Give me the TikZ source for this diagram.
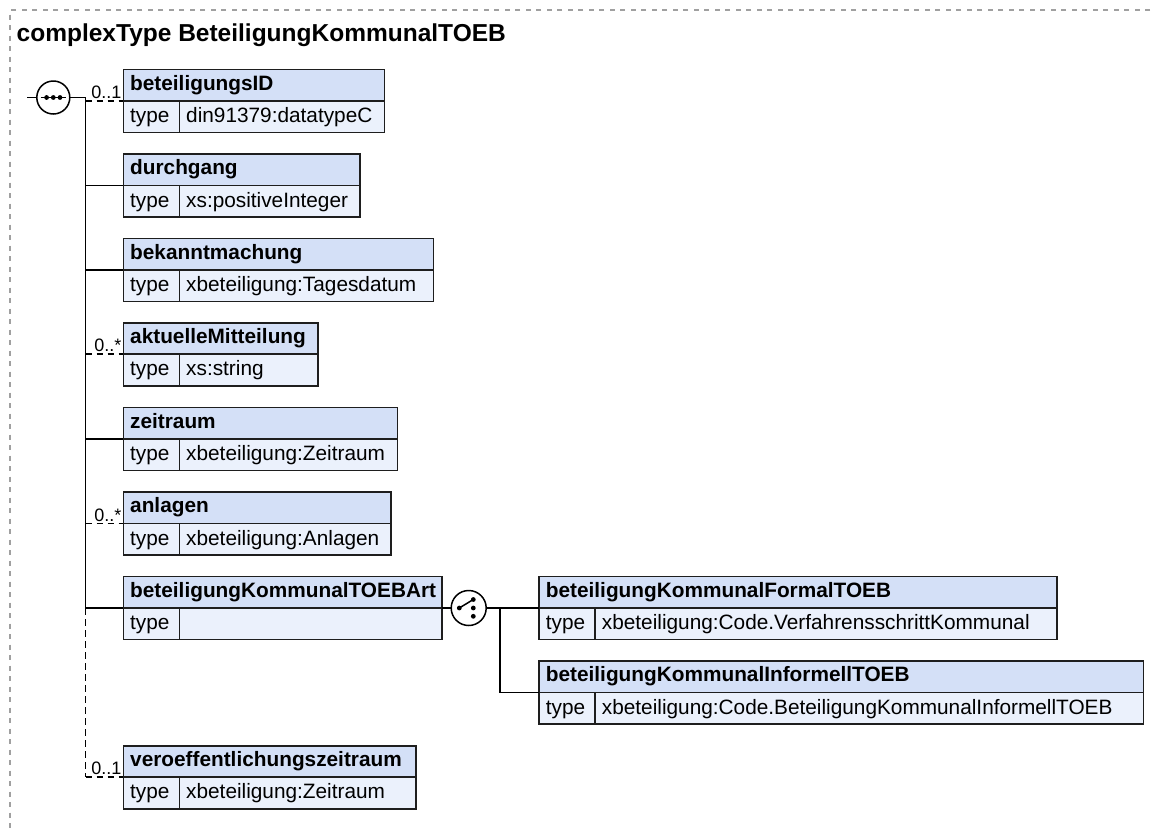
\documentclass[tikz,border=0pt]{standalone}
\usepackage{fontspec}
\setmainfont{Liberation Sans}
\definecolor{hdrc}{HTML}{D4E0F7}
\definecolor{typc}{HTML}{EBF1FC}
\definecolor{bordc}{HTML}{1E1E1E}
\definecolor{framec}{HTML}{A0A0A0}
\newcommand\xelem[6]{%
 \pgfmathsetmacro\xw{#4-#2}%
 \pgfmathsetmacro\xv{#4-#2-56}%
 \node[hdr, minimum width=\xw pt] (#1) at (#2,#3) {};
 \node[typ, minimum width=56pt] (#1-t) at (#1.south west) {};
 \node[typ, minimum width=\xv pt] (#1-v) at (#1-t.north east) {};
 \node[btxt] (#1-n) at ([shift={(6.7,20.7)}]#1.north west) {#5};
 \node[txt] (#1-tl) at ([shift={(6.7,21.6)}]#1-t.north west) {type};
 \node[txt] (#1-vl) at ([shift={(6.7,21.6)}]#1-v.north west) {#6};
}
\begin{document}
\begin{tikzpicture}[x=1pt,y=-1pt,
 cell/.style={draw=bordc, line width=1.6pt, inner sep=0pt, outer sep=0pt, minimum height=31.5pt, anchor=north west},
 hdr/.style={cell, fill=hdrc},
 typ/.style={cell, fill=typc},
 txt/.style={inner sep=0pt, anchor=base west, font=\fontsize{20.8}{24}\selectfont},
 btxt/.style={txt, font=\bfseries\fontsize{20.8}{24}\selectfont},
 card/.style={inner sep=0pt, anchor=base east, font=\fontsize{18}{20}\selectfont},
 conn/.style={draw=black, line width=1.5pt},
 opt/.style={conn, dash pattern=on 6.5pt off 4.5pt},
 comp/.style={circle, draw=black, line width=1.5pt, fill=white, minimum size=33pt, inner sep=0pt, outer sep=0pt},
 dotr/.style={fill=black},
]
\useasboundingbox (0,0) rectangle (1154,828);
\fill[white] (0,0) rectangle (1154,828);
% frame
\draw[framec, line width=1.2pt, dash pattern=on 5pt off 5.5pt] (1150,10) -- (10,10) -- (10,828);
% title
\node[inner sep=0pt, anchor=base west, font=\bfseries\fontsize{24.5}{28}\selectfont] (title) at (16.5,41) {complexType BeteiligungKommunalTOEB};

% elements
\xelem{bid}{123.3}{69.3}{384.3}{beteiligungsID}{din91379:datatypeC}
\xelem{dg}{123.3}{154}{360}{durchgang}{xs:positiveInteger}
\xelem{bk}{123.3}{238.3}{433.3}{bekanntmachung}{xbeteiligung:Tagesdatum}
\xelem{am}{123.3}{322.7}{317.7}{aktuelleMitteilung}{xs:string}
\xelem{zr}{123.3}{407.3}{397.3}{zeitraum}{xbeteiligung:Zeitraum}
\xelem{an}{123.3}{492}{391}{anlagen}{xbeteiligung:Anlagen}
\xelem{art}{123.3}{576.5}{441.7}{beteiligungKommunalTOEBArt}{}
\xelem{vz}{123.3}{745.7}{415.7}{veroeffentlichungszeitraum}{xbeteiligung:Zeitraum}
\xelem{fo}{539}{576.5}{1056.7}{beteiligungKommunalFormalTOEB}{xbeteiligung:Code.VerfahrensschrittKommunal}
\xelem{inf}{539}{661}{1143.3}{beteiligungKommunalInformellTOEB}{xbeteiligung:Code.BeteiligungKommunalInformellTOEB}

% sequence compositor
\node[comp] (seq) at (53.3,97.5) {};
\coordinate (src) at (27,97.5);
\coordinate (bus) at (85.7,97.5);
\draw[conn] (src) -- (seq.west);
\draw[conn] (seq.east) -- (bus);
\draw[conn] ([shift={(-12.7,0)}]seq.center) -- ([shift={(12.7,0)}]seq.center);
\fill[dotr] ([shift={(-6.7,0)}]seq.center) circle (2.4pt);
\fill[dotr] (seq.center) circle (2.4pt);
\fill[dotr] ([shift={(6.7,0)}]seq.center) circle (2.4pt);

% bus
\draw[conn] (bus) -- (bus |- art.south west);
\draw[opt] (bus |- art.south west) -- (bus |- vz.south west);

% element connectors
\draw[opt] (bus |- bid.south west) -- (bid.south west);
\draw[conn] (bus |- dg.south west) -- (dg.south west);
\draw[conn] (bus |- bk.south west) -- (bk.south west);
\draw[opt] (bus |- am.south west) -- (am.south west);
\draw[conn] (bus |- zr.south west) -- (zr.south west);
\draw[opt] (bus |- an.south west) -- (an.south west);
\draw[conn] (bus |- art.south west) -- (art.south west);
\draw[opt] (bus |- vz.south west) -- (vz.south west);

% cardinalities
\node[card] (c-bid) at ([shift={(-1.6,-2.5)}]bid.south west) {0..1};
\node[card] (c-am) at ([shift={(-1.6,-2.5)}]am.south west) {0..*};
\node[card] (c-an) at ([shift={(-1.6,-2.5)}]an.south west) {0..*};
\node[card] (c-vz) at ([shift={(-1.6,-2.5)}]vz.south west) {0..1};

% choice compositor
\node[comp, minimum size=35pt] (cho) at (468.7,608) {};
\coordinate (cbus) at (500,608);
\draw[conn] (art.south east) -- (cho.west);
\draw[conn] (cho.east) -- (cbus) -- (fo.south west);
\draw[conn] (cbus) |- (inf.south west);
\draw[conn] ([shift={(-9.4,0)}]cho.center) -- ([shift={(4.6,-8.5)}]cho.center);
\fill[dotr] ([shift={(-9.4,0)}]cho.center) circle (2.4pt);
\fill[dotr] ([shift={(4.6,-8.5)}]cho.center) circle (2.4pt);
\fill[dotr] ([shift={(4.6,0)}]cho.center) circle (2.4pt);
\fill[dotr] ([shift={(4.6,8.3)}]cho.center) circle (2.4pt);
\end{tikzpicture}
\end{document}
